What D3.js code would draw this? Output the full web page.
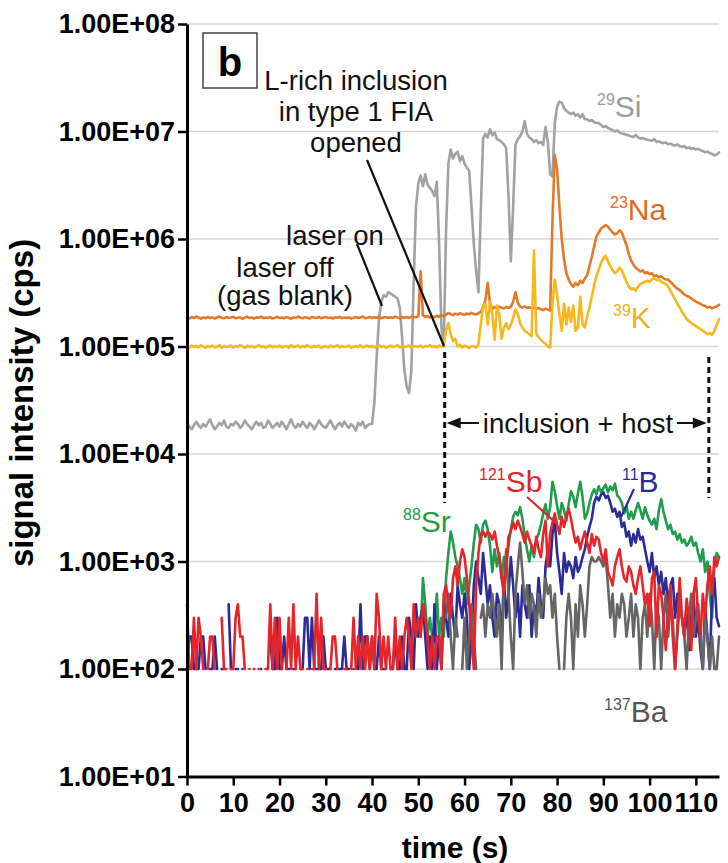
<!DOCTYPE html>
<html><head><meta charset="utf-8">
<script src="https://cdn.jsdelivr.net/npm/d3@7"></script>
<style>body{margin:0;background:#fff}svg{display:block}</style>
</head><body>
<svg id="c" width="728" height="863"></svg>
<script>
// ---------- DATA (cps, sampled every 0.5 s from 0 to 115 s) ----------
const timeStep = 0.5;
const si29 = [
19500,18000,17000,18500,20000,18500,17500,19000,18000,19500,
21000,18500,17000,18000,19500,18500,20500,18000,17500,19000,
18500,20000,19000,17500,18500,20500,19000,18000,17000,18500,
20000,18500,19500,17500,18000,20500,19000,17500,18500,19500,
18000,20000,18500,17000,19000,21000,18500,17500,19000,18000,
20000,18500,17500,19500,18500,17000,18500,20500,19000,18000,
17500,19000,20500,18500,17000,18500,19500,18000,20000,18500,
17500,19000,18000,16500,19500,18500,20000,17500,18500,19000,
19000,30000,80000,180000,260000,300000,290000,320000,310000,300000,
290000,280000,230000,120000,60000,42000,37000,60000,400000,2.0e6,
3.3e6,3.9e6,3.1e6,4.0e6,3.2e6,3.0e6,2.8e6,2.5e6,3.4e6,9.0e5,
1.5e5,1.0e5,1.2e6,5.0e6,6.8e6,5.6e6,6.2e6,6.5e6,5.3e6,5.9e6,
5.0e6,4.6e6,4.3e6,2.0e6,9.0e5,5.0e5,3.2e5,1.8e6,8.5e6,9.5e6,
8.8e6,1.05e7,9.2e6,9.8e6,8.5e6,8.3e6,8.0e6,7.6e6,7.0e6,2.5e6,
6.2e5,2.0e6,7.5e6,8.5e6,9.0e6,1.0e7,1.25e7,9.5e6,8.8e6,8.5e6,
8.0e6,8.3e6,7.8e6,8.0e6,7.5e6,1.1e7,8.0e6,4.0e6,3.8e6,1.2e7,
1.7e7,1.9e7,1.85e7,1.65e7,1.55e7,1.5e7,1.45e7,1.5e7,1.4e7,1.45e7,
1.35e7,1.45e7,1.3e7,1.3e7,1.25e7,1.28e7,1.22e7,1.2e7,1.2e7,1.15e7,
1.1e7,1.12e7,1.08e7,1.05e7,1.03e7,1.0e7,1.02e7,9.8e6,9.6e6,9.5e6,
9.3e6,9.2e6,9.0e6,8.9e6,9.3e6,8.8e6,8.6e6,8.7e6,8.5e6,8.4e6,
8.3e6,8.2e6,8.5e6,8.0e6,8.1e6,7.9e6,7.8e6,7.9e6,7.6e6,7.7e6,
7.5e6,7.4e6,7.6e6,7.3e6,7.2e6,7.3e6,7.0e6,7.1e6,6.9e6,7.0e6,
6.8e6,6.9e6,6.7e6,6.6e6,6.4e6,6.5e6,6.3e6,6.2e6,6.0e6,6.1e6,
6.4e6];
const na23 = [
185000,182000,188000,184000,190000,186000,181000,187000,183000,189000,
184000,187000,182000,186000,190000,185000,183000,188000,184000,186000,
189000,183000,185000,187000,181000,186000,189000,184000,186000,182000,
187000,185000,190000,183000,186000,184000,188000,182000,185000,189000,
184000,186000,183000,188000,185000,181000,187000,184000,190000,186000,
183000,187000,185000,182000,188000,186000,184000,189000,183000,186000,
188000,184000,186000,182000,187000,185000,189000,183000,186000,184000,
187000,182000,185000,188000,184000,186000,190000,183000,185000,188000,
184000,187000,185000,189000,183000,186000,188000,184000,187000,185000,
189000,186000,183000,187000,185000,188000,184000,190000,186000,188000,
190000,500000,195000,188000,192000,186000,190000,187000,193000,189000,
195000,192000,198000,205000,200000,196000,202000,198000,204000,200000,
197000,203000,199000,205000,201000,198000,204000,210000,230000,270000,
390000,250000,225000,232000,228000,235000,230000,226000,233000,229000,
234000,260000,320000,255000,235000,230000,236000,228000,232000,226000,
230000,224000,228000,222000,218000,225000,220000,216000,1.5e6,6.0e6,
4.5e6,2.0e6,1.0e6,650000,480000,420000,380000,360000,390000,370000,
410000,390000,430000,460000,560000,680000,850000,1.05e6,1.15e6,1.25e6,
1.3e6,1.35e6,1.3e6,1.22e6,1.15e6,1.1e6,1.13e6,1.2e6,1.15e6,1.0e6,
880000,720000,630000,580000,540000,520000,500000,510000,480000,490000,
470000,480000,450000,460000,440000,450000,430000,420000,420000,400000,
380000,360000,345000,335000,320000,305000,295000,290000,280000,270000,
262000,255000,250000,242000,238000,230000,234000,226000,232000,236000,
245000];
const k39 = [
100000,97000,102000,99000,101000,98000,103000,100000,97000,101000,
99000,102000,98000,100000,103000,97000,101000,99000,100000,102000,
98000,101000,99000,103000,100000,97000,102000,99000,101000,98000,
100000,103000,99000,101000,97000,100000,102000,98000,101000,99000,
102000,98000,100000,101000,97000,103000,99000,100000,102000,98000,
101000,99000,103000,100000,98000,101000,99000,102000,97000,100000,
101000,98000,102000,99000,100000,103000,98000,101000,99000,100000,
102000,97000,100000,101000,99000,103000,98000,100000,102000,99000,
101000,98000,100000,103000,99000,101000,97000,100000,102000,99000,
100000,103000,98000,101000,99000,100000,102000,98000,101000,100000,
99000,102000,98000,101000,100000,103000,99000,101000,98000,102000,
100000,104000,140000,165000,130000,112000,118000,100000,104000,98000,
102000,99000,97000,101000,100000,98000,105000,160000,240000,250000,
160000,260000,200000,115000,240000,200000,118000,150000,165000,145000,
160000,185000,220000,200000,165000,150000,140000,135000,130000,125000,
780000,130000,122000,115000,110000,106000,100000,98000,250000,420000,
300000,200000,140000,250000,160000,230000,170000,240000,140000,150000,
290000,160000,150000,190000,230000,290000,370000,450000,520000,600000,
660000,700000,620000,560000,510000,480000,500000,540000,510000,450000,
400000,360000,340000,350000,330000,360000,380000,390000,400000,410000,
400000,420000,430000,415000,420000,400000,390000,380000,360000,330000,
300000,275000,250000,230000,210000,195000,180000,172000,165000,160000,
155000,150000,145000,140000,135000,130000,134000,128000,140000,158000,
180000];
// 0 = no counts recorded (gap on the log scale)
const sb121 = [
400,100,100,300,100,300,200,100,0,100,
200,200,100,0,0,300,100,100,0,100,
100,300,400,200,200,100,0,100,0,100,
0,100,0,0,100,100,400,100,300,100,
300,100,0,100,300,100,400,100,200,100,
100,0,100,0,100,100,500,100,300,100,
100,0,100,200,200,100,0,0,100,100,
0,100,300,100,200,100,200,100,200,100,
200,100,500,300,100,200,100,200,100,100,
300,100,200,100,200,300,200,100,400,200,
300,200,400,300,200,100,200,100,200,200,
100,500,600,400,300,700,900,600,1000,1300,
1100,700,400,200,100,600,1200,1800,1900,1700,
1900,1800,1600,1900,1400,1100,700,500,900,1700,
1900,2300,2000,2400,2100,1800,1500,1900,1600,1400,
1200,1700,1300,1100,1800,2400,900,1800,2300,2800,
2200,1800,2600,2100,2600,3100,2500,1900,1500,1700,
1300,1600,1900,1500,1200,1800,1400,1700,1600,1200,
1000,1300,800,700,600,900,1100,1300,900,700,
650,900,800,600,500,700,900,600,400,500,
250,700,800,200,600,500,300,150,300,600,
200,100,250,700,300,200,450,300,150,500,
700,300,200,500,300,600,900,500,1100,900,
1100];
const b11 = [
100,200,200,100,100,100,200,200,100,0,
100,100,200,100,0,100,100,0,400,100,
0,100,100,0,100,0,0,0,0,100,
0,0,100,0,0,0,200,100,100,300,
100,100,200,100,100,0,100,100,0,100,
100,300,300,100,300,100,100,100,100,200,
100,100,100,0,100,100,100,100,200,100,
100,0,100,0,100,400,100,200,200,100,
200,100,100,200,100,100,100,0,100,100,
200,100,100,200,100,100,300,200,100,400,
200,300,400,200,100,200,100,400,100,200,
100,400,300,200,500,300,200,600,400,300,
500,300,100,200,600,1000,700,500,1200,700,
400,600,300,200,500,400,200,700,300,500,
1100,600,300,500,200,600,400,300,600,200,
400,300,700,400,300,900,1300,900,1800,2400,
1200,800,500,1200,800,1000,900,700,1100,800,
900,1100,1300,1700,2100,2500,3500,4000,3700,4200,
4400,3900,4100,3500,2900,3100,2600,2900,2100,2300,
1700,1900,1400,1800,1500,2000,1600,1700,1300,1000,
800,1200,700,900,600,800,500,700,400,600,
700,300,500,400,300,200,400,150,300,500,
200,300,150,100,400,200,100,500,700,300,
250];
const sr88 = [
0,0,0,0,0,0,0,0,0,0,
0,0,0,0,0,0,0,0,0,0,
0,0,0,0,0,0,0,0,0,0,
0,0,0,0,0,0,0,0,0,0,
0,0,0,0,0,0,0,0,0,0,
0,0,0,0,0,0,0,0,0,0,
0,0,0,0,0,0,0,0,0,0,
0,0,0,0,0,0,0,0,0,0,
0,0,0,0,0,0,0,0,0,0,
0,0,0,0,0,0,0,0,0,0,
0,200,700,400,200,300,200,200,500,200,
300,200,700,1200,1900,1500,1100,900,700,500,
700,400,600,900,1500,2200,2000,1500,2200,2400,
2000,1400,800,1300,900,1200,700,1100,900,1400,
2000,2600,2900,2700,3200,2500,1700,1300,1000,1400,
1100,1600,1800,2200,2800,3400,2500,3200,5500,4500,
3300,2500,3500,3000,2400,3400,4500,4000,3200,4300,
5500,4000,2500,2800,3500,4200,4700,4200,5000,4400,
4800,5200,4400,5000,4600,5300,4100,3900,3500,2800,
3300,2500,2900,2500,3000,3500,3000,2500,3200,2700,
2400,2200,2500,2000,3000,3800,2900,2400,2000,2200,
1800,1900,1600,1800,1500,1600,1400,1500,1700,1400,
1500,1200,1000,1300,800,1000,500,300,900,1200,
1100];
const ba137 = [
0,0,0,0,0,0,0,0,0,0,
0,0,0,0,0,0,0,0,0,0,
0,0,0,0,0,0,0,0,0,0,
0,0,0,0,0,0,0,0,0,0,
0,0,0,0,0,0,0,0,0,0,
0,0,0,0,0,0,0,0,0,0,
0,0,0,0,0,0,0,0,0,0,
0,0,0,0,0,0,0,0,0,0,
0,0,0,0,0,0,0,0,0,0,
0,0,0,0,0,0,0,0,0,0,
0,0,0,0,0,0,0,0,0,0,
100,0,300,500,200,100,300,200,0,100,
300,100,200,400,200,100,0,300,400,200,
400,300,500,300,200,400,100,600,1300,500,
200,100,500,900,1500,800,400,600,300,500,
400,200,500,300,400,700,500,600,300,500,
200,100,0,100,300,500,300,100,400,200,
600,400,200,400,900,1100,1000,1000,1100,1000,
900,1100,600,300,500,200,400,300,500,400,
200,300,500,200,400,300,100,300,400,200,
500,300,100,400,300,100,300,500,200,400,
300,100,200,400,300,200,100,300,500,200,
300,400,200,100,300,200,100,200,100,100,
200];

const yTickValues = [1e1,1e2,1e3,1e4,1e5,1e6,1e7,1e8];
const yTickLabels = ["1.00E+01","1.00E+02","1.00E+03","1.00E+04","1.00E+05","1.00E+06","1.00E+07","1.00E+08"];
const xTickValues = [0,10,20,30,40,50,60,70,80,90,100,110];
const xMax = 115;
const inclusionStart = 55.7, inclusionEnd = 112.8;

// ---------- CHART ----------
const FONT = "'Liberation Sans', Arial, Helvetica, sans-serif";
const svg = d3.select("#c").style("font-family", FONT);
const x = d3.scaleLinear().domain([0, xMax]).range([187, 719]);
const y = d3.scaleLog().domain([10, 1e8]).range([776.5, 24]);

// gridlines
svg.append("g").selectAll("line").data(yTickValues.slice(1)).join("line")
  .attr("x1", x(0)).attr("x2", x(xMax))
  .attr("y1", d => y(d)).attr("y2", d => y(d))
  .attr("stroke", "#d6d6d6").attr("stroke-width", 1.5);

const series = [
  {values: si29, color: "#a2a2a2"},
  {values: na23, color: "#e27a2c"},
  {values: k39, color: "#f6b81c"},
  {values: sr88, color: "#1f9c4c"},
  {values: b11, color: "#2b2b97"},
  {values: ba137, color: "#656565"},
  {values: sb121, color: "#e5252a"}
];
const line = d3.line().defined(d => d.v > 0).x(d => x(d.t)).y(d => y(d.v));
svg.append("g").selectAll("path").data(series).join("path")
  .attr("d", s => line(s.values.map((v, i) => ({t: i * timeStep, v}))))
  .attr("fill", "none").attr("stroke", s => s.color)
  .attr("stroke-width", 2.6).attr("stroke-linejoin", "round").attr("stroke-linecap", "round");

// axes
const yAxis = svg.append("g").attr("transform", `translate(${x(0)},0)`)
  .call(d3.axisLeft(y).tickValues(yTickValues).tickFormat((d, i) => yTickLabels[i]).tickSize(9).tickSizeOuter(0).tickPadding(3));
const xAxis = svg.append("g").attr("transform", `translate(0,${y(10)})`)
  .call(d3.axisBottom(x).tickValues(xTickValues).tickFormat(d => d).tickSize(9).tickSizeOuter(0).tickPadding(5));
[yAxis, xAxis].forEach(g => {
  g.select(".domain").attr("stroke", "#000").attr("stroke-width", 3);
  g.selectAll(".tick line").attr("stroke", "#000").attr("stroke-width", 2.5);
  g.selectAll(".tick text").attr("fill", "#000").style("font-family", FONT)
    .style("font-weight", "bold").style("font-size", "27px");
});
xAxis.selectAll(".tick text").attr("dy", "0.8em");

svg.append("text").attr("transform", "translate(33,403) rotate(-90)")
  .attr("text-anchor", "middle").style("font-weight", "bold").style("font-size", "33px")
  .text("signal intensity (cps)");
svg.append("text").attr("x", 455).attr("y", 858)
  .attr("text-anchor", "middle").style("font-weight", "bold").style("font-size", "30px")
  .text("time (s)");

// panel label
svg.append("rect").attr("x", 203).attr("y", 33).attr("width", 54).attr("height", 55)
  .attr("fill", "none").attr("stroke", "#444").attr("stroke-width", 1.5);
svg.append("text").attr("x", 230).attr("y", 76).attr("text-anchor", "middle")
  .style("font-weight", "bold").style("font-size", "40px").text("b");

// annotations
const ann = [
  {t: "L-rich inclusion", x: 356, y: 90},
  {t: "in type 1 FIA", x: 356, y: 121},
  {t: "opened", x: 356, y: 152},
  {t: "laser on", x: 335, y: 245},
  {t: "laser off", x: 285, y: 277},
  {t: "(gas blank)", x: 285, y: 305},
  {t: "inclusion + host", x: 578, y: 433}
];
svg.append("g").selectAll("text").data(ann).join("text")
  .attr("x", d => d.x).attr("y", d => d.y).attr("text-anchor", "middle")
  .style("font-size", "27.5px").attr("fill", "#111").text(d => d.t);

const leaders = [
  {x1: 357, y1: 244, x2: 382, y2: 306, c: "#111"},
  {x1: 367, y1: 160, x2: 444, y2: 346, c: "#111"},
  {x1: 527, y1: 497, x2: 556, y2: 523, c: "#e5252a"},
  {x1: 634, y1: 489, x2: 621, y2: 517, c: "#2b2b97"}
];
svg.append("g").selectAll("line").data(leaders).join("line")
  .attr("x1", d => d.x1).attr("y1", d => d.y1).attr("x2", d => d.x2).attr("y2", d => d.y2)
  .attr("stroke", d => d.c).attr("stroke-width", 2.2);

// dashed boundaries
[[inclusionStart, 352, 503], [inclusionEnd, 357, 498]].forEach(([t, a, b]) => {
  svg.append("line").attr("x1", x(t)).attr("x2", x(t)).attr("y1", a).attr("y2", b)
    .attr("stroke", "#111").attr("stroke-width", 3).attr("stroke-dasharray", "6,4");
});
// arrows
const ay = 423;
const xl = x(inclusionStart) + 2, xr = x(inclusionEnd) - 2;
svg.append("line").attr("x1", 479).attr("x2", xl + 10).attr("y1", ay).attr("y2", ay).attr("stroke", "#111").attr("stroke-width", 2);
svg.append("line").attr("x1", 677).attr("x2", xr - 10).attr("y1", ay).attr("y2", ay).attr("stroke", "#111").attr("stroke-width", 2);
svg.append("path").attr("d", `M${xl},${ay}L${xl + 14},${ay - 5.5}L${xl + 14},${ay + 5.5}Z`).attr("fill", "#111");
svg.append("path").attr("d", `M${xr},${ay}L${xr - 14},${ay - 5.5}L${xr - 14},${ay + 5.5}Z`).attr("fill", "#111");

// isotope labels
const labels = [
  {sup: "29", main: "Si", x: 597, y: 117, c: "#9b9b9b"},
  {sup: "23", main: "Na", x: 610, y: 220, c: "#e0691c"},
  {sup: "39", main: "K", x: 613, y: 328, c: "#f2b01e"},
  {sup: "121", main: "Sb", x: 479, y: 492, c: "#e3232a"},
  {sup: "11", main: "B", x: 622, y: 492, c: "#2b2b97"},
  {sup: "88", main: "Sr", x: 403, y: 532, c: "#1f9c4c"},
  {sup: "137", main: "Ba", x: 604, y: 722, c: "#555555"}
];
labels.forEach(l => {
  const t = svg.append("text").attr("x", l.x).attr("y", l.y - 12).attr("fill", l.c);
  t.append("tspan").style("font-size", "16px").text(l.sup);
  t.append("tspan").attr("dy", 12).style("font-size", "30px").text(l.main);
});
</script>
</body></html>
